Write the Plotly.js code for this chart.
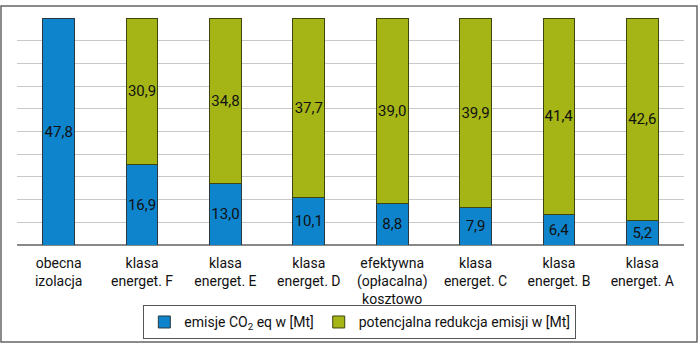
<!DOCTYPE html>
<html>
<head>
<meta charset="utf-8">
<script src="https://cdn.plot.ly/plotly-3.0.1.min.js"></script>
<style>
html,body{margin:0;padding:0;background:#fff;}
#chart{width:700px;height:350px;}
</style>
</head>
<body>
<div id="chart"></div>
<script>
var categories = ["obecna<br>izolacja", "klasa<br>energet. F", "klasa<br>energet. E", "klasa<br>energet. D", "efektywna<br>(opłacalna)<br>kosztowo", "klasa<br>energet. C", "klasa<br>energet. B", "klasa<br>energet. A"];
var emisje = [47.8, 16.9, 13.0, 10.1, 8.8, 7.9, 6.4, 5.2];
var redukcja = [null, 30.9, 34.8, 37.7, 39.0, 39.9, 41.4, 42.6];
var seriesNames = ["emisje CO<sub>2</sub> eq w [Mt]", "potencjalna redukcja emisji w [Mt]"];

function fmt(v){ return v == null ? "" : v.toFixed(1).replace(".", ","); }

var fontFam = "Roboto, 'Liberation Sans', sans-serif";

var traces = [
  {
    type: "bar", x: categories, y: emisje, name: seriesNames[0],
    marker: {color: "#0E84CC", line: {color: "#2a3a40", width: 1}},
    text: emisje.map(fmt), textposition: "inside", insidetextanchor: "middle", textangle: 0,
    textfont: {family: fontFam, size: 15, color: "#111"}, constraintext: "none",
    hoverinfo: "skip"
  },
  {
    type: "bar", x: categories, y: redukcja, name: seriesNames[1],
    marker: {color: "#A5B516", line: {color: "#3e4510", width: 1}},
    text: redukcja.map(fmt), textposition: "inside", insidetextanchor: "middle", textangle: 0,
    textfont: {family: fontFam, size: 15, color: "#111"}, constraintext: "none",
    hoverinfo: "skip"
  }
];

var layout = {
  width: 700, height: 350,
  margin: {l: 17, r: 16, t: 18, b: 104},
  barmode: "stack",
  bargap: 0.62,
  paper_bgcolor: "#fff", plot_bgcolor: "#fff",
  font: {family: fontFam, size: 15, color: "#111"},
  showlegend: true,
  legend: {
    orientation: "h", x: 0.514, xanchor: "center", y: -0.335, yanchor: "middle",
    bordercolor: "#555", borderwidth: 1, bgcolor: "rgba(0,0,0,0)",
    font: {family: fontFam, size: 14, color: "#111"},
    traceorder: "normal", itemwidth: 30, tracegroupgap: 0
  },
  xaxis: {
    tickfont: {family: fontFam, size: 14, color: "#111"},
    showline: false, ticks: "", showgrid: false, fixedrange: true,
    ticklabelstandoff: 8
  },
  yaxis: {
    range: [0, 47.8], dtick: 4.78, tick0: 0, showticklabels: false,
    gridcolor: "#c8c8c8", gridwidth: 1, zeroline: true, zerolinecolor: "#888", zerolinewidth: 2,
    showline: false, ticks: "", fixedrange: true
  },
  shapes: [
    {type: "rect", xref: "paper", yref: "paper", x0: -0.024, x1: 1.0195, y0: -0.4273, y1: 1.0527,
     line: {color: "#666", width: 1.5}, fillcolor: "rgba(0,0,0,0)", layer: "below"}
  ]
};

Plotly.newPlot("chart", traces, layout, {displayModeBar: false, staticPlot: true});
</script>
</body>
</html>
